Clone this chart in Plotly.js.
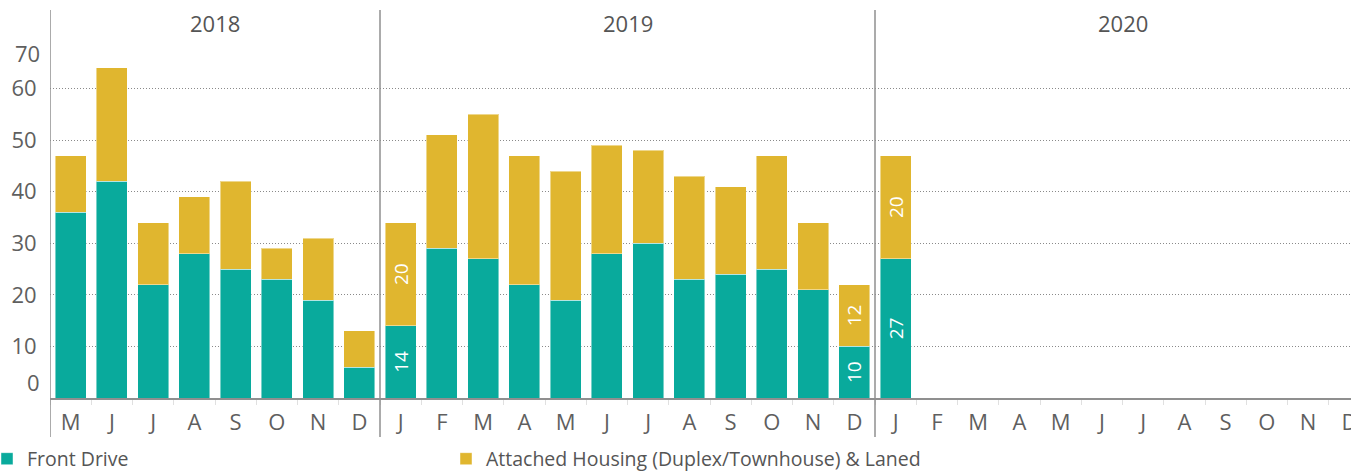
<!DOCTYPE html>
<html>
<head>
<meta charset="utf-8">
<script src="https://cdn.plot.ly/plotly-3.0.1.min.js"></script>
<style>html,body{margin:0;padding:0;background:#fff;}#chart{width:1351px;height:473px;}</style>
</head>
<body>
<div id="chart"></div>
<script>
// ---- data ----
const years = [2018, 2019, 2020];
const monthAbbr = ['Jan','Feb','Mar','Apr','May','Jun','Jul','Aug','Sep','Oct','Nov','Dec'];
const monthLetters = ['J','F','M','A','M','J','J','A','S','O','N','D'];
const firstMonthIndex = [4, 0, 0];   // 2018 starts in May
const frontDrive2018 = [36, 42, 22, 28, 25, 23, 19, 6];
const attached2018   = [11, 22, 12, 11, 17, 6, 12, 7];
const frontDrive2019 = [14, 29, 27, 22, 19, 28, 30, 23, 24, 25, 21, 10];
const attached2019   = [20, 22, 28, 25, 25, 21, 18, 20, 17, 22, 13, 12];
const frontDrive2020 = [27, null, null, null, null, null, null, null, null, null, null, null];
const attached2020   = [20, null, null, null, null, null, null, null, null, null, null, null];
const labelledPeriods = ['Jan 2019', 'Dec 2019', 'Jan 2020'];
const yTicks = [0, 10, 20, 30, 40, 50, 60, 70];
const seriesNames = ['Front Drive', 'Attached Housing (Duplex/Townhouse) & Laned'];

// ---- build ----
const frontByYear = [frontDrive2018, frontDrive2019, frontDrive2020];
const attByYear = [attached2018, attached2019, attached2020];
const cats = [], tickText = [], front = [], att = [], yearCenters = [], yearBounds = [];
years.forEach((y, yi) => {
  const start = cats.length;
  for (let m = firstMonthIndex[yi]; m < 12; m++) {
    cats.push(monthAbbr[m] + ' ' + y);
    tickText.push(monthLetters[m]);
    front.push(frontByYear[yi][m - firstMonthIndex[yi]]);
    att.push(attByYear[yi][m - firstMonthIndex[yi]]);
  }
  const end = cats.length - 1;
  yearCenters.push((start + end) / 2);
  yearBounds.push(start - 0.5);
});
const lbl = (vals) => vals.map((v, i) => labelledPeriods.includes(cats[i]) && v != null ? String(v) : '');

const FONT = 'Open Sans, sans-serif';
const TXT = '#5f5f5f';
const TEAL = '#09aa9c';
const GOLD = '#e0b62f';

const common = {
  type: 'bar', x: cats, textposition: 'inside', textangle: -90,
  insidetextanchor: 'middle', constraintext: 'none',
  textfont: {family: FONT, size: 19, color: '#ffffff'},
  hoverinfo: 'x+y+name'
};
const traces = [
  Object.assign({}, common, {name: seriesNames[0], y: front, text: lbl(front), legend: 'legend',
    marker: {color: TEAL, line: {color: 'rgba(255,255,255,0.45)', width: 1}}}),
  Object.assign({}, common, {name: seriesNames[1], y: att, text: lbl(att), legend: 'legend2',
    marker: {color: GOLD, line: {color: 'rgba(255,255,255,0.45)', width: 1}}})
];

const plotLeftPx = 50, plotW = 1301;
const plotTopPx = 37, plotBottomPx = 398, H = 473;
const plotH = plotBottomPx - plotTopPx;
const pxToPaperY = (py) => (plotBottomPx - py) / plotH;
const pxToPaperX = (px) => (px - plotLeftPx) / plotW;

const shapes = yearBounds.map(b => ({
  type: 'line', xref: 'x', yref: 'paper', x0: b, x1: b,
  y0: pxToPaperY(437), y1: pxToPaperY(10),
  line: {color: '#8f8f8f', width: 1.5}
}));

const annotations = years.map((y, i) => ({
  text: String(y), xref: 'x', yref: 'paper', x: yearCenters[i], y: pxToPaperY(23),
  showarrow: false, font: {family: FONT, size: 22, color: '#555555'}, xanchor: 'center', yanchor: 'middle'
}));
// edge tick labels (0 and 70) drawn inset like the reference
annotations.push({text: String(yTicks[0]), xref: 'paper', yref: 'y', x: 0, y: yTicks[0], yshift: 16,
  xshift: -8, xanchor: 'right', yanchor: 'middle', showarrow: false, font: {family: FONT, size: 22, color: TXT}});
annotations.push({text: String(yTicks[yTicks.length - 1]), xref: 'paper', yref: 'y', x: 0, y: yTicks[yTicks.length - 1], yshift: -16,
  xshift: -8, xanchor: 'right', yanchor: 'middle', showarrow: false, font: {family: FONT, size: 22, color: TXT}});

const legendBase = {orientation: 'h', xanchor: 'left', y: pxToPaperY(459), yanchor: 'middle',
  font: {family: FONT, size: 19.5, color: '#555555'}, bgcolor: 'rgba(0,0,0,0)'};

const layout = {
  width: 1351, height: H,
  margin: {l: plotLeftPx, r: 0, t: plotTopPx, b: H - plotBottomPx, autoexpand: false},
  paper_bgcolor: '#ffffff', plot_bgcolor: '#ffffff',
  barmode: 'stack', bargap: 0.25,
  showlegend: true,
  legend: Object.assign({}, legendBase, {x: pxToPaperX(-13)}),
  legend2: Object.assign({}, legendBase, {x: pxToPaperX(446)}),
  xaxis: {
    type: 'category', categoryorder: 'array', categoryarray: cats,
    range: [-0.5, -0.5 + plotW / 41.25],
    tickmode: 'array', tickvals: cats, ticktext: tickText,
    ticks: 'outside', tickson: 'boundaries', ticklen: 5, tickcolor: '#e0e0e0',
    ticklabelstandoff: 4,
    tickfont: {family: FONT, size: 22, color: TXT},
    showline: true, linecolor: '#8f8f8f', linewidth: 1.5,
    showgrid: false, zeroline: false, fixedrange: true
  },
  yaxis: {
    range: [0, 70], tickmode: 'array', tickvals: yTicks,
    ticktext: yTicks.map((t, i) => (i === 0 || i === yTicks.length - 1) ? '' : String(t)),
    ticks: 'outside', ticklen: 8, tickcolor: 'rgba(0,0,0,0)',
    tickfont: {family: FONT, size: 22, color: TXT},
    showgrid: true, gridcolor: '#8a8a8a', griddash: '1px,2px', gridwidth: 1,
    zeroline: false, showline: false, fixedrange: true
  },
  shapes: shapes,
  annotations: annotations
};

Plotly.newPlot('chart', traces, layout, {displayModeBar: false, staticPlot: true});
</script>
</body>
</html>
